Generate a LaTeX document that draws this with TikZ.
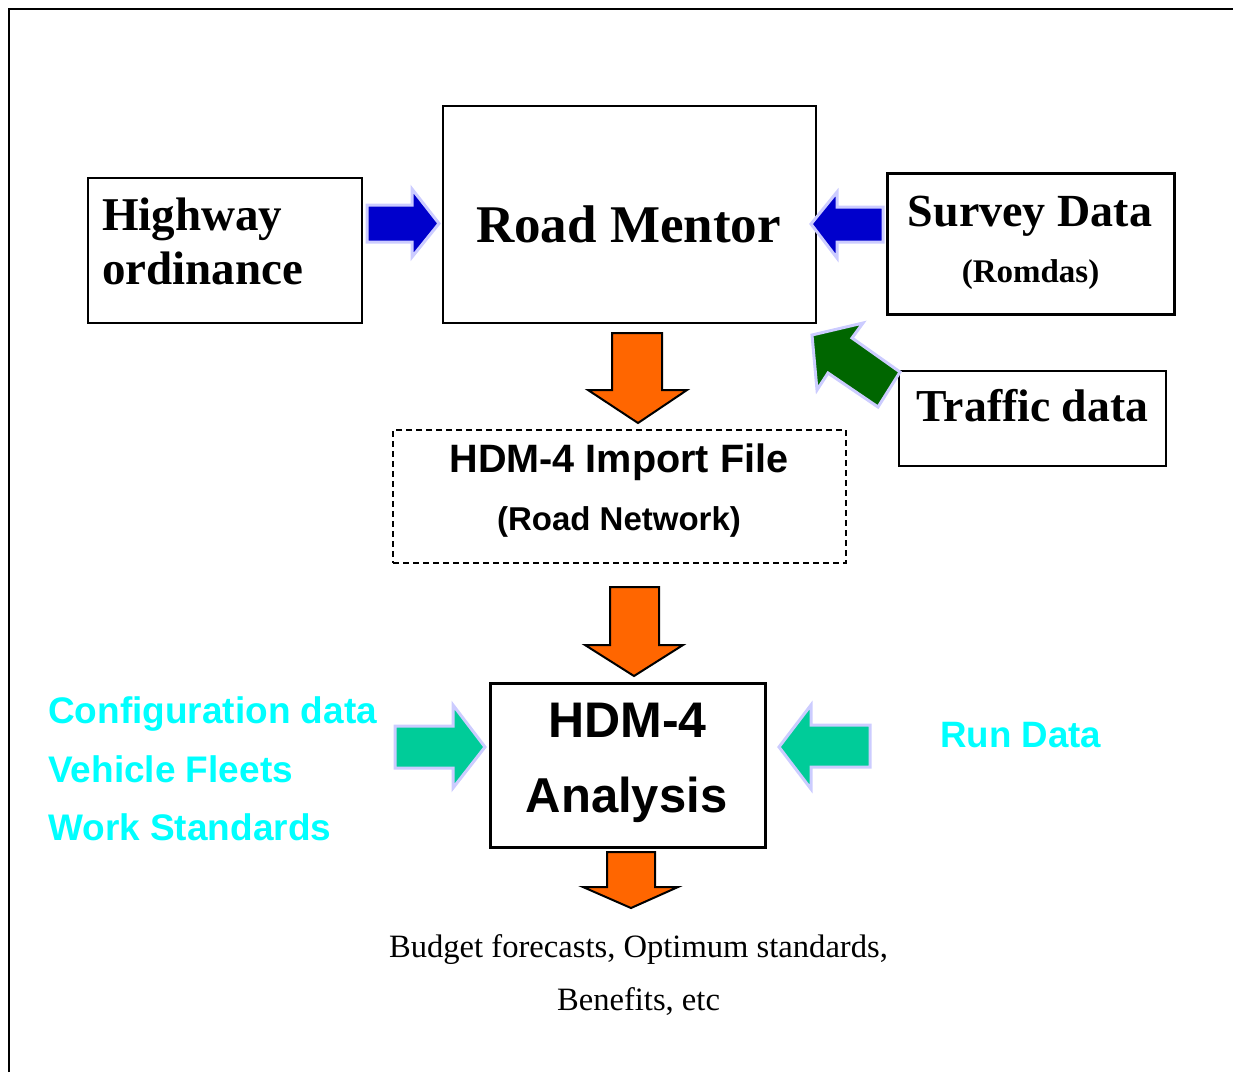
\documentclass[tikz,border=0pt]{standalone}
\usepackage{fontspec}
\newfontfamily\tnr{Liberation Serif}
\newfontfamily\arial{Liberation Sans}
\definecolor{arrblue}{RGB}{0,0,204}
\definecolor{arrgreen}{RGB}{0,102,0}
\definecolor{arrteal}{RGB}{0,204,153}
\definecolor{arrorange}{RGB}{255,102,0}
\definecolor{lav}{RGB}{204,204,255}
\definecolor{cyantext}{RGB}{0,255,255}
\newcommand{\fs}[1]{\fontsize{#1}{#1}\selectfont}
\tikzset{
  box/.style={draw=black, line width=1.5pt, rectangle, inner sep=0pt},
  thickbox/.style={draw=black, line width=3pt, rectangle, inner sep=0pt},
  dashbox/.style={draw=black, line width=1.5pt, dash pattern=on 6pt off 4pt, rectangle, inner sep=0pt},
  lbl/.style={inner sep=0pt, anchor=base},
  lblw/.style={inner sep=0pt, anchor=base west},
  lavarrow/.style={draw=lav, line width=3pt, line join=miter},
  blackarrow/.style={draw=black, line width=2pt, line join=miter, fill=arrorange},
}
\begin{document}
\begin{tikzpicture}[x=1pt,y=-1pt]
\useasboundingbox (0,0) rectangle (1233,1072);
% outer frame
\draw[line width=2pt] (9,1072) -- (9,9) -- (1233,9);

% boxes
\node[box, minimum width=274pt, minimum height=145pt] (hw) at (225,250.5) {};
\node[box, minimum width=373pt, minimum height=217pt] (rm) at (629.5,214.5) {};
\node[thickbox, minimum width=287pt, minimum height=141pt] (sv) at (1030.5,243.5) {};
\node[box, minimum width=267pt, minimum height=95pt] (tr) at (1032.5,418.5) {};
\node[dashbox, minimum width=453pt, minimum height=133pt] (imp) at (619.5,496.5) {};
\node[thickbox, minimum width=275pt, minimum height=164pt] (an) at (627.5,765) {};

% texts
\node[lblw] (hw1) at (102,230) {\tnr\bfseries\fs{47}Highway};
\node[lblw] (hw2) at (102,284) {\tnr\bfseries\fs{47}ordinance};
\node[lbl] (rmt) at (628.5,242) {\tnr\bfseries\fs{53}Road Mentor};
\node[lbl] (sv1) at (1030,226) {\tnr\bfseries\fs{46}Survey Data};
\node[lbl] (sv2) at (1030.5,282) {\tnr\bfseries\fs{33}(Romdas)};
\node[lbl] (trt) at (1032.5,421) {\tnr\bfseries\fs{45.7}Traffic data};
\node[lbl] (imp1) at (619,472) {\arial\bfseries\fs{39.6}HDM-4 Import File};
\node[lbl] (imp2) at (619,530) {\arial\bfseries\fs{33}(Road Network)};
\node[lbl] (an1) at (627.5,737) {\arial\bfseries\fs{50}HDM-4};
\node[lbl] (an2) at (626.5,812) {\arial\bfseries\fs{49}Analysis};
\node[lblw, text=cyantext] (c1) at (48,723) {\arial\bfseries\fs{37}Configuration data};
\node[lblw, text=cyantext] (c2) at (48,782) {\arial\bfseries\fs{37}Vehicle Fleets};
\node[lblw, text=cyantext] (c3) at (48,840) {\arial\bfseries\fs{37}Work Standards};
\node[lblw, text=cyantext] (rd) at (940,747) {\arial\bfseries\fs{36.7}Run Data};
\node[lbl] (o1) at (638.5,957) {\tnr\fs{32.6}Budget forecasts, Optimum standards,};
\node[lbl] (o2) at (638.5,1010) {\tnr\fs{32.6}Benefits, etc};

% block arrows
% blue right (Highway -> Road Mentor)
\draw[lavarrow, fill=arrblue] (367,205) -- (412,205) -- (412,189) -- (439,223.5) -- (412,257) -- (412,242) -- (367,242) -- cycle;
% blue left (Survey -> Road Mentor)
\draw[lavarrow, fill=arrblue] (883,207) -- (837,207) -- (837,192) -- (811,224) -- (837,258) -- (837,242) -- (883,242) -- cycle;
% green diagonal (Traffic -> Road Mentor)
\draw[lavarrow, fill=arrgreen] (812,335) -- (863,323) -- (852,338) -- (900,372) -- (878,407) -- (828,373) -- (817,390) -- cycle;
% teal right (config -> analysis)
\draw[lavarrow, fill=arrteal] (395,726) -- (453,726) -- (453,705) -- (485,747) -- (453,788) -- (453,768) -- (395,768) -- cycle;
% teal left (run data -> analysis)
\draw[lavarrow, fill=arrteal] (870,725) -- (811,725) -- (811,705) -- (779,747) -- (811,789) -- (811,767) -- (870,767) -- cycle;
% orange down arrows
\draw[blackarrow] (612,333) -- (662,333) -- (662,390) -- (687,390) -- (638,423) -- (588,390) -- (612,390) -- cycle;
\draw[blackarrow] (610,587) -- (659,587) -- (659,645) -- (683,645) -- (634,676) -- (585,645) -- (610,645) -- cycle;
\draw[blackarrow] (607,852) -- (655,852) -- (655,887) -- (678,887) -- (631,908) -- (583,887) -- (607,887) -- cycle;
\end{tikzpicture}
\end{document}
